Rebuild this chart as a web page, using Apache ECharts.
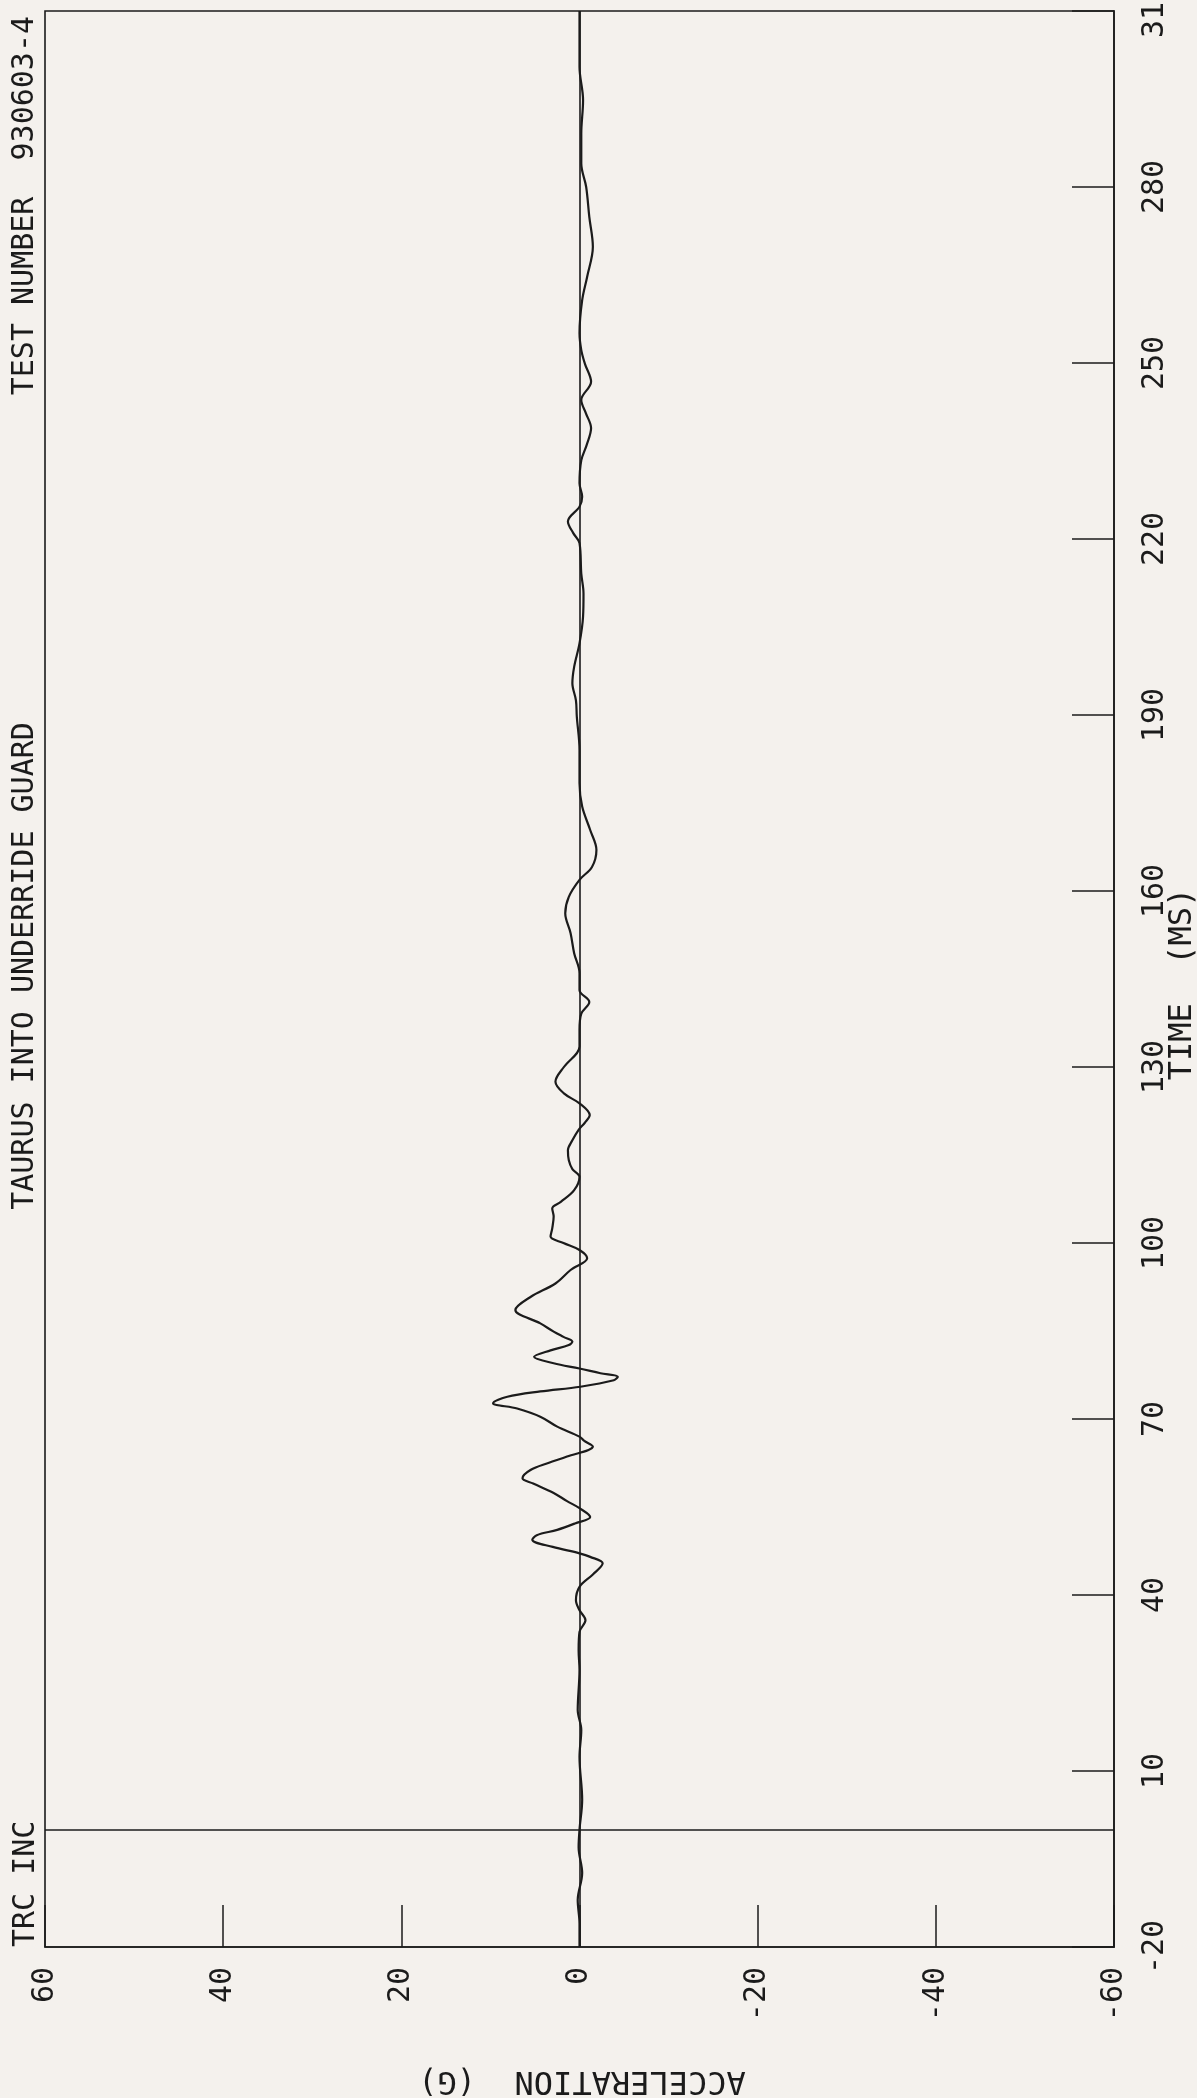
<!DOCTYPE html>
<html>
<head>
<meta charset="utf-8">
<script src="https://cdn.jsdelivr.net/npm/echarts@6/dist/echarts.min.js"></script>
<style>
html,body{margin:0;padding:0;background:#f4f1ed;}
#chart{width:1197px;height:2098px;}
</style>
</head>
<body>
<div id="chart"></div>
<script>
// ---- data (time in ms, acceleration in G) ----
var timeMs = [-20,-16,-12,-7.4,-3,0,5.1,12.4,17,20.4,27.2,30.6,33.7,35.7,37.4,39.1,41.4,43.5,45.4,46.5,47.1,48.2,49.4,50.2,51.1,52.2,53.3,54.8,56,57.4,59,59.9,61.3,62.5,63.6,65.3,66.3,67,68.7,70.4,71.8,72.7,73.8,74.7,75.5,76.6,77.2,77.8,78.6,79.5,80.6,81.7,82.6,83.2,84,84.9,86.3,88.6,90.8,93.1,95.4,97.4,98.8,100,101.1,102.5,104.5,105.9,107,109,111.3,112.6,114.1,115.8,117.5,119.3,120.5,121.8,123.8,125.5,127.5,130,133.5,136.3,139.1,141.1,143.1,146,149.4,152.8,156.2,159,161.9,164.1,167,170.4,174.4,178.4,184,189.7,192.5,195.4,198.2,202.2,206.8,210.7,214.1,219.3,221,223,225.5,227.2,229.5,233.4,236,238.9,241.5,243.7,246.8,249.9,252.2,255.1,260.7,264.7,269.8,274.9,280,284,289.1,294.8,300.5,306.2,310];
var accelG = [0,0,0.2,-0.3,0.1,0,-0.3,0,-0.2,0.2,0,0.1,0,-0.67,0,0.4,0,-1.5,-2.6,-1.2,0,3.0,5.3,4.8,2.5,0.5,-1.2,0,1.4,2.9,5.2,6.4,5.5,3.5,1.4,-1.5,-0.5,0,2.5,4.4,7.0,9.7,8.1,4.4,-0.1,-3.85,-4.3,-2.35,0,2.9,5.1,3.25,1.2,0.8,1.8,2.9,4.4,7.2,5.5,2.7,1.0,-0.86,0,1.8,3.25,3.06,2.9,3.06,2.1,0.6,0,0.8,1.2,1.3,0.8,0.1,-0.6,-1.15,0,1.75,2.7,1.75,0,0,-0.2,-1.1,0,0,0.6,1.0,1.6,1.2,0,-1.4,-1.9,-1.2,-0.3,0,0,0.3,0.4,0.8,0.6,0,-0.4,-0.45,-0.2,0,0.7,1.3,0,-0.3,0,-0.2,-0.8,-1.3,-0.7,-0.2,-1.3,-0.6,-0.2,0,-0.3,-0.86,-1.5,-1.1,-0.75,-0.2,-0.2,-0.4,0,0,0];
var timeTicks = [-20,10,40,70,100,130,160,190,220,250,280,310];
var accelTicks = [-60,-40,-20,0,20,40,60];
var titleText = 'TAURUS INTO UNDERRIDE GUARD';
var testText = 'TEST NUMBER  930603-4';
var orgText = 'TRC INC';
var timeName = 'TIME  (MS)';
var accelName = 'ACCELERATION  (G)';

var pairs = timeMs.map(function (t, i) { return [accelG[i], t]; });

var FONT = '"DejaVu Sans Mono", "Liberation Mono", monospace';
var INK = '#1b1b1b';

var chart = echarts.init(document.getElementById('chart'), null, {renderer: 'canvas'});
chart.setOption({
  backgroundColor: '#f4f1ed',
  animation: false,
  grid: {
    left: 45, top: 11, right: 83, bottom: 151,
    containLabel: false, outerBoundsMode: 'none',
    show: true, borderColor: INK, borderWidth: 1.6, backgroundColor: 'transparent'
  },
  xAxis: {
    type: 'value', min: -60, max: 60, interval: 20, inverse: true, position: 'bottom',
    splitLine: {show: false},
    axisLine: {show: true, onZero: false, lineStyle: {color: INK, width: 1.6}},
    axisTick: {show: true, inside: true, length: 42, lineStyle: {color: INK, width: 1.5}, customValues: accelTicks},
    axisLabel: {show: true, rotate: 90, margin: 20, color: INK, fontFamily: FONT, fontSize: 30, customValues: accelTicks}
  },
  yAxis: {
    type: 'value', min: -20, max: 310, interval: 30, position: 'right',
    splitLine: {show: false},
    axisLine: {show: true, onZero: false, lineStyle: {color: INK, width: 1.6}},
    axisTick: {show: true, inside: true, length: 42, lineStyle: {color: INK, width: 1.5}, customValues: timeTicks},
    axisLabel: {show: true, rotate: 90, margin: 26, color: INK, fontFamily: FONT, fontSize: 30, customValues: timeTicks, showMinLabel: true, showMaxLabel: true}
  },
  series: [{
    type: 'line',
    data: pairs,
    showSymbol: false,
    smooth: 0.35,
    lineStyle: {color: INK, width: 2.2},
    markLine: {
      silent: true,
      symbol: ['none', 'none'],
      label: {show: false},
      lineStyle: {color: INK, type: 'solid', width: 1.6},
      data: [{xAxis: 0}, {yAxis: 0}]
    }
  }],
  graphic: [
    {type: 'text', x: 25, y: 966, rotation: Math.PI / 2,
     style: {text: titleText, fill: INK, font: '30px ' + FONT, align: 'center', verticalAlign: 'middle', textAlign: 'center', textVerticalAlign: 'middle'}},
    {type: 'text', x: 25, y: 16, rotation: Math.PI / 2,
     style: {text: testText, fill: INK, font: '30px ' + FONT, align: 'right', verticalAlign: 'middle', textAlign: 'right', textVerticalAlign: 'middle'}},
    {type: 'text', x: 26, y: 1947, rotation: Math.PI / 2,
     style: {text: orgText, fill: INK, font: '30px ' + FONT, align: 'left', verticalAlign: 'middle', textAlign: 'left', textVerticalAlign: 'middle'}},
    {type: 'text', x: 1183, y: 984, rotation: Math.PI / 2,
     style: {text: timeName, fill: INK, font: '32px ' + FONT, align: 'center', verticalAlign: 'middle', textAlign: 'center', textVerticalAlign: 'middle'}},
    {type: 'text', x: 582, y: 2080, rotation: Math.PI,
     style: {text: accelName, fill: INK, font: '32px ' + FONT, align: 'center', verticalAlign: 'middle', textAlign: 'center', textVerticalAlign: 'middle'}}
  ]
});
</script>
</body>
</html>
